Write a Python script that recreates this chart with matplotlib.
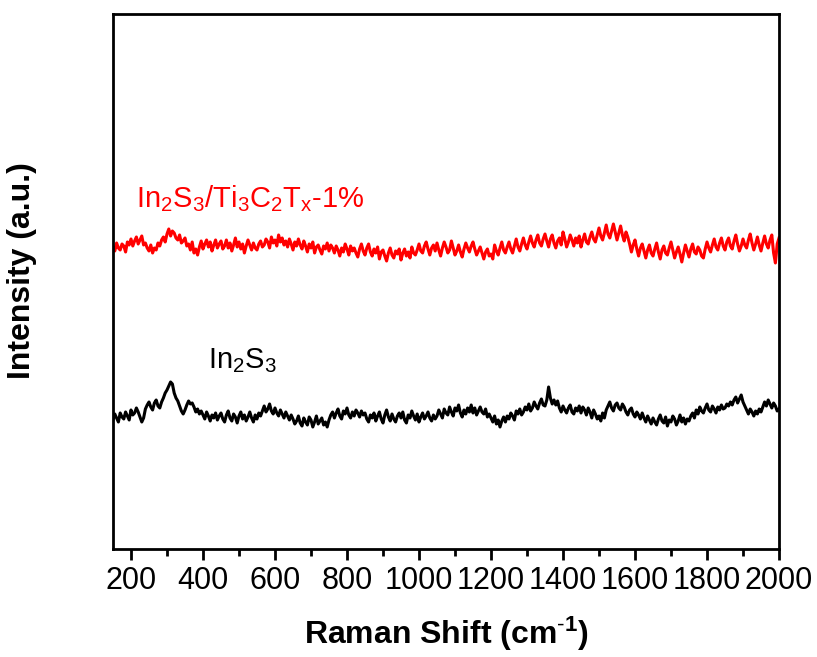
import numpy as np
import matplotlib
matplotlib.use("Agg")
import matplotlib.pyplot as plt
from matplotlib.ticker import MultipleLocator

plt.rcParams['font.family'] = ['Liberation Sans', 'DejaVu Sans']
plt.rcParams['mathtext.fontset'] = 'custom'
plt.rcParams['mathtext.rm'] = 'Liberation Sans'
plt.rcParams['mathtext.it'] = 'Liberation Sans:italic'
plt.rcParams['mathtext.bf'] = 'Liberation Sans:bold'

# Raman shift (cm^-1), 5 cm^-1 steps from 150 to 2000
shift = np.arange(150, 2001, 5)

in2s3_ti3c2tx = [
    302, 298, 306, 301, 299, 305, 303, 297, 307, 304, 310, 303, 308, 312, 305, 309, 313, 304, 306, 301,
    298, 304, 296, 301, 299, 306, 303, 309, 312, 307, 315, 320, 313, 318, 316, 311, 309, 314, 306, 308,
    311, 303, 305, 299, 307, 296, 300, 294, 302, 308, 300, 305, 309, 302, 307, 298, 304, 309, 301, 305,
    308, 300, 303, 309, 301, 306, 298, 304, 311, 302, 307, 300, 305, 296, 303, 309, 304, 299, 306, 301,
    299, 305, 308, 302, 304, 310, 307, 301, 312, 306, 309, 303, 314, 307, 311, 304, 308, 302, 310, 305,
    299, 307, 303, 310, 304, 300, 308, 303, 297, 305, 301, 307, 296, 302, 304, 299, 295, 303, 300, 306,
    298, 304, 301, 296, 303, 299, 293, 301, 297, 305, 300, 294, 303, 298, 301, 296, 292, 300, 305, 298,
    294, 301, 305, 297, 293, 300, 296, 302, 290, 297, 299, 293, 288, 296, 301, 294, 291, 298, 295, 300,
    289, 296, 300, 293, 297, 291, 302, 296, 294, 299, 305, 298, 296, 303, 307, 300, 294, 301, 304, 298,
    306, 299, 293, 301, 307, 302, 296, 299, 308, 301, 294, 298, 304, 297, 292, 300, 306, 301, 297, 303,
    307, 300, 294, 298, 302, 296, 290, 297, 300, 293, 295, 290, 304, 298, 294, 301, 307, 299, 296, 302,
    307, 300, 296, 303, 310, 302, 298, 305, 311, 304, 300, 307, 313, 306, 302, 309, 314, 306, 303, 310,
    315, 308, 302, 310, 314, 306, 301, 308, 311, 304, 317, 310, 302, 307, 314, 309, 303, 311, 306, 313,
    302, 309, 315, 307, 305, 312, 317, 310, 307, 314, 321, 313, 309, 316, 324, 315, 311, 318, 325, 317,
    309, 316, 323, 314, 308, 317, 312, 305, 297, 304, 309, 300, 293, 301, 305, 298, 291, 299, 304, 296,
    293, 300, 306, 297, 290, 299, 303, 296, 294, 301, 307, 299, 291, 297, 302, 295, 287, 296, 304, 298,
    292, 300, 305, 297, 295, 302, 299, 293, 291, 300, 307, 301, 297, 304, 310, 302, 299, 306, 311, 303,
    299, 307, 311, 303, 300, 308, 314, 305, 298, 303, 310, 304, 301, 309, 315, 306, 299, 305, 312, 304,
    298, 306, 313, 305, 301, 309, 314, 296, 286, 305, 311,
]

in2s3 = [
    129, 135, 131, 127, 136, 132, 130, 137, 133, 129, 139, 134, 136, 141, 137, 132, 127, 131, 140, 144,
    147, 142, 139, 146, 149, 143, 141, 147, 151, 156, 159, 163, 167, 165, 156, 151, 148, 143, 138, 135,
    139, 144, 148, 145, 146, 142, 137, 140, 135, 138, 134, 130, 137, 133, 128, 134, 131, 136, 129, 133,
    136, 130, 127, 134, 138, 131, 128, 135, 132, 126, 133, 137, 130, 134, 128, 132, 137, 131, 127, 134,
    130, 136, 133, 138, 143, 137, 140, 145, 138, 135, 141, 136, 133, 139, 135, 131, 137, 133, 129, 134,
    130, 125, 128, 133, 126, 123, 131, 127, 124, 132, 129, 122, 127, 133, 125, 128, 131, 124, 127, 122,
    129, 134, 137, 131, 136, 140, 133, 130, 138, 135, 141, 134, 131, 137, 133, 139, 136, 132, 138, 134,
    136, 130, 127, 134, 131, 136, 128, 133, 137, 130, 126, 134, 139, 132, 128, 135, 130, 127, 133, 136,
    131, 137, 129, 126, 134, 131, 138, 133, 129, 135, 127, 132, 136, 130, 133, 137, 131, 128, 134, 130,
    133, 139, 135, 131, 140, 136, 134, 142, 137, 133, 141, 138, 144, 136, 132, 139, 135, 141, 137, 144,
    136, 141, 134, 138, 142, 137, 135, 140, 132, 135, 131, 127, 133, 125, 129, 122, 128, 132, 127, 133,
    130, 136, 133, 129, 138, 135, 140, 134, 137, 142, 139, 145, 138, 141, 147, 143, 140, 146, 150, 144,
    143, 149, 162, 151, 145, 149, 144, 148, 141, 137, 143, 139, 136, 141, 144, 137, 135, 141, 138, 143,
    136, 142, 139, 134, 141, 137, 131, 139, 135, 130, 133, 128, 136, 131, 139, 143, 147, 141, 138, 144,
    146, 141, 139, 145, 142, 137, 134, 139, 141, 135, 132, 137, 134, 130, 136, 131, 127, 133, 129, 125,
    131, 127, 124, 130, 134, 128, 126, 132, 123, 129, 127, 133, 130, 124, 128, 134, 127, 131, 125, 130,
    128, 133, 136, 131, 139, 135, 142, 138, 136, 141, 145, 139, 137, 143, 140, 136, 142, 139, 144, 140,
    141, 145, 143, 147, 144, 149, 152, 146, 150, 154, 147, 143, 139, 135, 140, 137, 133, 138, 135, 140,
    137, 142, 147, 143, 149, 145, 141, 146, 143, 138, 140,
]

label_red = r'In$_2$S$_3$/Ti$_3$C$_2$T$_\mathrm{x}$-1%'
label_black = r'In$_2$S$_3$'

fig = plt.figure(figsize=(8.17, 6.57), dpi=100)
ax = fig.add_axes([0.1383, 0.1644, 0.8152, 0.8143])

ax.plot(shift, in2s3_ti3c2tx, color='#ff0000', lw=2.2)
ax.plot(shift, in2s3, color='black', lw=2.2)

ax.set_xlim(150, 2000)
ax.set_ylim(0, 535)
ax.set_xticks(np.arange(200, 2001, 200))
ax.xaxis.set_minor_locator(MultipleLocator(100))
ax.set_yticks([])
ax.tick_params(axis='x', which='major', direction='out', length=8, width=2,
               labelsize=22, pad=4, top=False)
ax.tick_params(axis='x', which='minor', direction='out', length=5, width=2, top=False)
for s in ax.spines.values():
    s.set_linewidth(2)

ax.set_xlabel(r'Raman Shift (cm$^{\mathbf{\text{-}1}}$)', fontsize=23, fontweight='bold', labelpad=14)
ax.set_ylabel('Intensity (a.u.)', fontsize=23, fontweight='bold')
ax.yaxis.set_label_coords(-0.114, 0.52)

ax.text(214, 342, label_red, color='#ff0000', fontsize=21)
ax.text(414, 181, label_black, color='black', fontsize=21)

fig.savefig('out.png', dpi=100)
